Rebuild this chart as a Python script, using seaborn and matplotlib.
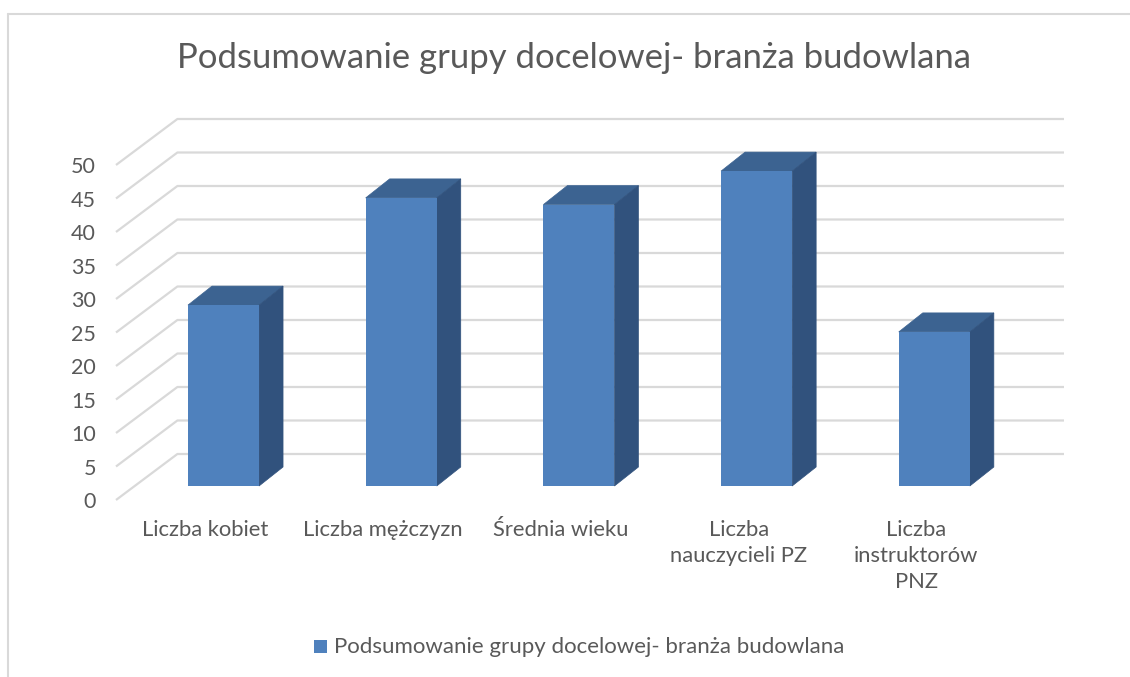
import matplotlib
matplotlib.use("Agg")
import matplotlib.pyplot as plt
import seaborn as sns
import pandas as pd
from matplotlib.patches import Polygon, Rectangle
from matplotlib.lines import Line2D

categories = ["Liczba kobiet", "Liczba mężczyzn", "Średnia wieku",
              "Liczba\nnauczycieli PZ", "Liczba\ninstruktorów\nPNZ"]
values = [27, 43, 42, 47, 23]
yticks = [0, 5, 10, 15, 20, 25, 30, 35, 40, 45, 50]
title = "Podsumowanie grupy docelowej- branża budowlana"
series_name = "Podsumowanie grupy docelowej- branża budowlana"

FRONT = "#4f81bd"
TOP = "#3c6391"
SIDE = "#31527d"
GRID = "#d9d9d9"
TXT = "#595959"
FONT = ["Lato", "DejaVu Sans"]

sns.set_theme(style="white")
plt.rcParams["font.family"] = FONT

W, H = 1130, 677
fig = plt.figure(figsize=(W / 100, H / 100), dpi=100)

# pixel geometry of the bar (front-face) plane
X0PX, XSTEP = 134.65, 177.7     # left edge of category -0.5, px per category
Y0PX, YSTEP = 486.0, 6.7        # pixel row of value 0, px per unit
xlim = (-0.8, 5.0)
ylim = (-3.0, 56.0)
def xpx(x): return X0PX + (x + 0.5) * XSTEP
def ypx(y): return Y0PX - y * YSTEP
left = xpx(xlim[0]) / W
right = xpx(xlim[1]) / W
bottom = 1 - ypx(ylim[0]) / H
top = 1 - ypx(ylim[1]) / H
ax = fig.add_axes([left, bottom, right - left, top - bottom])

df = pd.DataFrame({"cat": categories, "val": values})
sns.barplot(data=df, x="cat", y="val", color=FRONT, saturation=1, width=0.4,
            ax=ax, zorder=3, linewidth=0)
ax.set_xlim(*xlim)
ax.set_ylim(*ylim)
ax.axis("off")

# depth offsets in data units
front_dx, front_dy = -18 / XSTEP, -14 / YSTEP   # bar plane -> front floor edge
back_dx, back_dy = 43.4 / XSTEP, 32 / YSTEP     # bar plane -> back wall
bar_dx, bar_dy = 24 / XSTEP, 19 / YSTEP         # bar depth
grid_right = (1064 - X0PX) / XSTEP - 0.5
grid_left_front = (116 - X0PX) / XSTEP - 0.5

# gridlines: diagonal on the side wall, then horizontal on the back wall
for v in yticks:
    xs = [grid_left_front, grid_left_front + (back_dx - front_dx), grid_right]
    ys = [v + front_dy, v + back_dy, v + back_dy]
    ax.plot(xs, ys, color=GRID, lw=1.6, zorder=1, clip_on=False,
            solid_capstyle="butt")
    ax.text(grid_left_front - 20 / XSTEP, v + front_dy - 0.35, str(v),
            ha="right", va="center", fontsize=15.5, color=TXT)

# 3D extrusion (top & side faces) from the seaborn bars
for p in list(ax.patches):
    x0 = p.get_x()
    x1 = x0 + p.get_width()
    h = p.get_height()
    topf = Polygon([(x0, h), (x1, h), (x1 + bar_dx, h + bar_dy),
                    (x0 + bar_dx, h + bar_dy)], closed=True,
                   facecolor=TOP, edgecolor=TOP, lw=0.5, zorder=2.9)
    side = Polygon([(x1, 0), (x1 + bar_dx, bar_dy), (x1 + bar_dx, h + bar_dy),
                    (x1, h)], closed=True, facecolor=SIDE, edgecolor=SIDE,
                   lw=0.5, zorder=2.9)
    ax.add_patch(topf)
    ax.add_patch(side)

# category labels on the front floor edge
for i, c in enumerate(categories):
    ax.text(i + front_dx, -(520 - Y0PX) / YSTEP, c, ha="center", va="top",
            fontsize=15.8, color=TXT, linespacing=1.36)

# title
fig.text(574 / W, 1 - 58 / H, title, ha="center", va="center",
         fontsize=24.9, color=TXT)

# legend
fig.patches.append(Rectangle((314 / W, 1 - 653 / H), 13 / W, 13 / H,
                             transform=fig.transFigure, facecolor=FRONT,
                             edgecolor="none"))
fig.text(334 / W, 1 - 647 / H, series_name, ha="left", va="center",
         fontsize=16, color=TXT)

# chart area border (top and left visible)
fig.lines.append(Line2D([8 / W, 1.0], [1 - 14 / H, 1 - 14 / H],
                        transform=fig.transFigure, color=GRID, lw=1.5))
fig.lines.append(Line2D([8 / W, 8 / W], [0, 1 - 14 / H],
                        transform=fig.transFigure, color=GRID, lw=1.5))

fig.savefig("out.png", dpi=100)
